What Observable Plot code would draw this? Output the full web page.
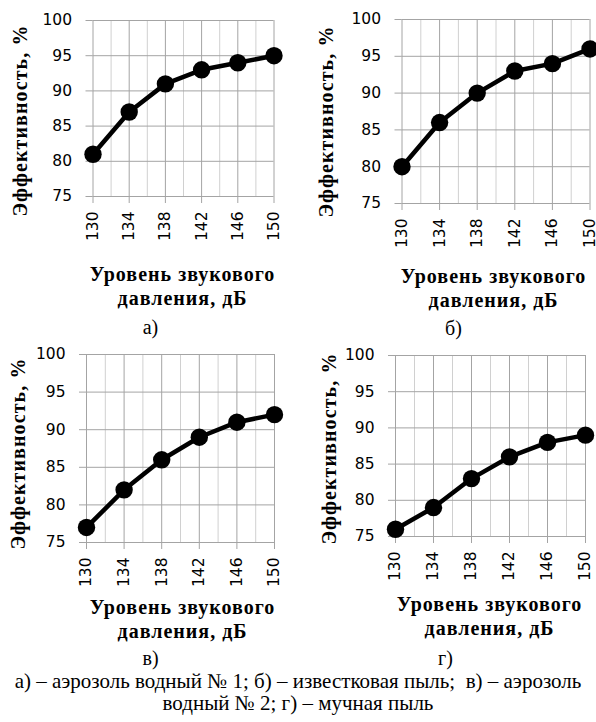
<!DOCTYPE html>
<html>
<head>
<meta charset="utf-8">
<script src="https://cdn.jsdelivr.net/npm/d3@7"></script>
<script src="https://cdn.jsdelivr.net/npm/@observablehq/plot@0.6"></script>
<style>
  html, body { margin: 0; padding: 0; background: #fff; }
  #page { position: relative; width: 596px; height: 722px; overflow: hidden; background: #fff; }
  #page svg { position: absolute; overflow: visible; }
  #caption { position: absolute; left: 0; top: 670px; width: 596px; text-align: center;
    font-family: "Liberation Serif", "Times New Roman", serif; font-size: 21px; line-height: 22px; color: #000; white-space: nowrap; }
</style>
</head>
<body>
<div id="page"></div>
<script>
// ---- data ----
const pressure = [130, 134, 138, 142, 146, 150];      // Уровень звукового давления, дБ
const pressureMinor = [132, 136, 140, 144, 148];
const yTicks = [75, 80, 85, 90, 95, 100];
const effA = [81, 87, 91, 93, 94, 95];   // а) аэрозоль водный № 1
const effB = [80, 86, 90, 93, 94, 96];   // б) известковая пыль
const effC = [77, 82, 86, 89, 91, 92];   // в) аэрозоль водный № 2
const effD = [76, 79, 83, 86, 88, 89];   // г) мучная пыль
const panelLetters = ["а)", "б)", "в)", "г)"];
const yTitle = "Эффективность, %";
const xTitle = "Уровень звукового\nдавления, дБ";
const captionLines = ["а) – аэрозоль водный № 1; б) – известковая пыль;  в) – аэрозоль", "водный № 2; г) – мучная пыль"];

// ---- layout (page coordinates) ----
const panels = [
  {values: effA, letter: panelLetters[0], svg: [0, 0, 298, 340], box: [92.5, 273.5, 20, 196],
   yT: [20, 120], xT: [182, 285], lt: [150, 327]},
  {values: effB, letter: panelLetters[1], svg: [298, 0, 298, 340], box: [401.5, 589.5, 19, 203],
   yT: [326, 121], xT: [493, 287], lt: [453, 328]},
  {values: effC, letter: panelLetters[2], svg: [0, 340, 298, 328], box: [86, 274, 354, 542],
   yT: [18, 453], xT: [182, 618], lt: [150, 658]},
  {values: effD, letter: panelLetters[3], svg: [298, 340, 298, 328], box: [395, 585, 355, 536],
   yT: [329, 448], xT: [489, 615], lt: [445, 658]}
];

const page = document.getElementById("page");
const serif = "Liberation Serif";

for (const p of panels) {
  const [L, T, W, H] = p.svg;
  const [x0, x1, y0, y1] = p.box;
  const mL = x0 - L, mR = L + W - x1, mT = y0 - T, mB = T + H - y1;
  const data = pressure.map((x, i) => ({x, y: p.values[i]}));
  const ox = x0, oy = y0; // frame top-left in page coords
  const chart = Plot.plot({
    width: W, height: H,
    marginLeft: mL, marginRight: mR, marginTop: mT, marginBottom: mB,
    style: {fontFamily: "'DejaVu Sans', sans-serif", fontSize: "15.5px", color: "#000", background: "transparent", overflow: "visible"},
    x: {domain: [130, 150]},
    y: {domain: [75, 100]},
    marks: [
      Plot.ruleX(pressureMinor, {stroke: "#d0d0d0", strokeWidth: 1}),
      Plot.ruleX(pressure, {stroke: "#a4a4a4", strokeWidth: 1}),
      Plot.ruleY(yTicks, {stroke: "#a4a4a4", strokeWidth: 1}),
      Plot.axisX({ticks: pressure, tickRotate: -90, tickSize: 7, tickPadding: 8, label: null, stroke: "#a4a4a4", strokeOpacity: 1, fill: "#000"}),
      Plot.axisY({ticks: yTicks, tickSize: 7, tickPadding: 14, label: null, stroke: "#a4a4a4", strokeOpacity: 1, fill: "#000"}),
      Plot.line(data, {x: "x", y: "y", stroke: "#000", strokeWidth: 4.5}),
      Plot.dot(data, {x: "x", y: "y", r: 8.7, fill: "#000", stroke: "none"}),
      Plot.text([yTitle], {frameAnchor: "top-left", dx: p.yT[0] - ox, dy: p.yT[1] - oy, rotate: -90,
        fontFamily: serif, fontWeight: "bold", fontSize: 20, textAnchor: "middle", lineAnchor: "middle"}),
      Plot.text([xTitle], {frameAnchor: "top-left", dx: p.xT[0] - ox, dy: p.xT[1] - oy, lineHeight: 1.2,
        fontFamily: serif, fontWeight: "bold", fontSize: 20, textAnchor: "middle", lineAnchor: "middle"}),
      Plot.text([p.letter], {frameAnchor: "top-left", dx: p.lt[0] - ox, dy: p.lt[1] - oy,
        fontFamily: serif, fontSize: 20, textAnchor: "middle", lineAnchor: "middle"})
    ]
  });
  // the reference's axis titles are set with slightly open letter spacing
  chart.querySelectorAll("text").forEach(t => {
    if (t.textContent.startsWith("Уровень")) t.style.letterSpacing = "1px";
    if (t.textContent.startsWith("Эффект")) t.style.letterSpacing = "1.1px";
  });
  chart.style.left = L + "px";
  chart.style.top = T + "px";
  page.appendChild(chart);
}

const cap = document.createElement("div");
cap.id = "caption";
cap.innerHTML = captionLines.map(s => s.replace(/ /g, "\u00a0")).join("<br>");
page.appendChild(cap);
</script>
</body>
</html>
